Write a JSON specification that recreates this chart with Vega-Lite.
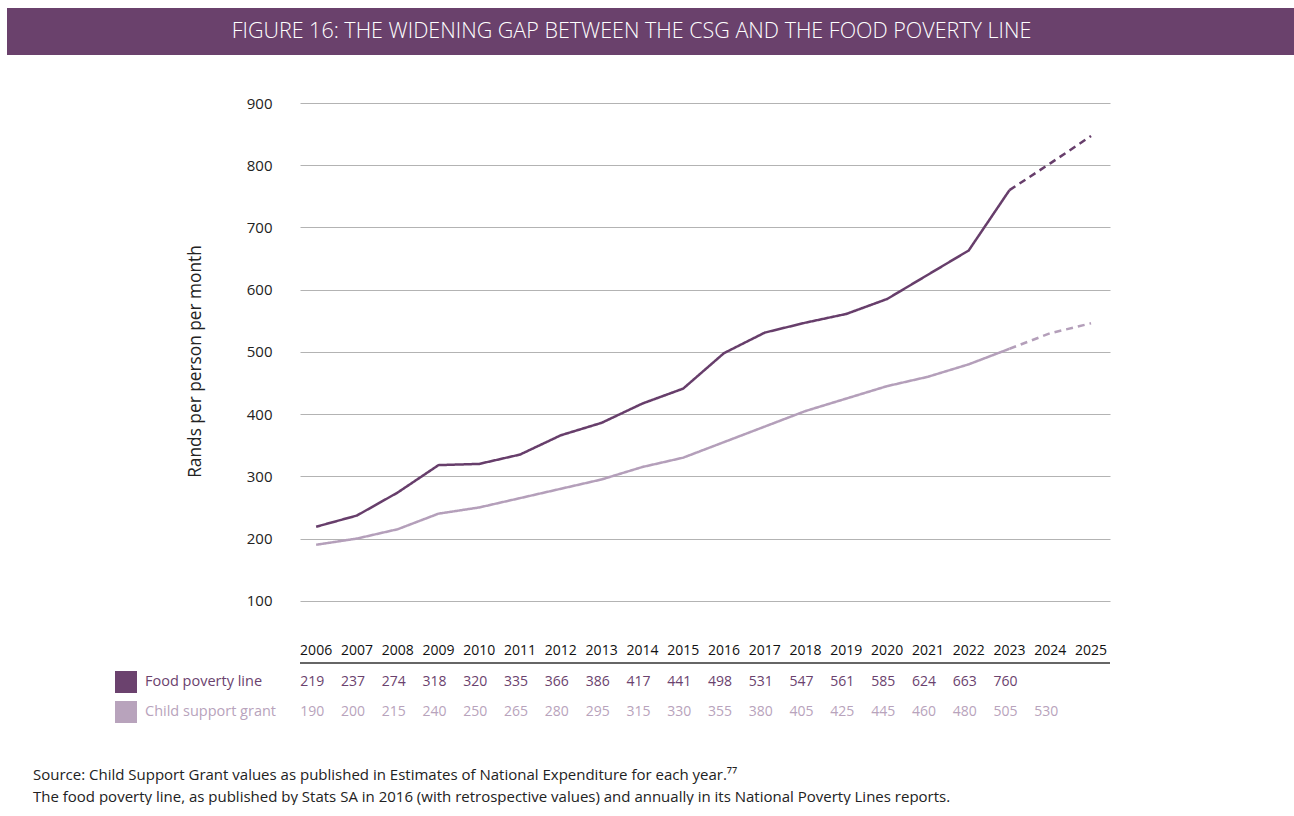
{
  "$schema": "https://vega.github.io/schema/vega-lite/v6.json",
  "padding": {"left": 7, "top": 8, "right": 0, "bottom": 0},
  "background": "white",
  "config": {"view": {"stroke": null}, "font": "Open Sans"},
  "datasets": {
    "lines": [
      {"year": "2006", "series": "Food poverty line", "seg": "actual", "value": 219},
      {"year": "2007", "series": "Food poverty line", "seg": "actual", "value": 237},
      {"year": "2008", "series": "Food poverty line", "seg": "actual", "value": 274},
      {"year": "2009", "series": "Food poverty line", "seg": "actual", "value": 318},
      {"year": "2010", "series": "Food poverty line", "seg": "actual", "value": 320},
      {"year": "2011", "series": "Food poverty line", "seg": "actual", "value": 335},
      {"year": "2012", "series": "Food poverty line", "seg": "actual", "value": 366},
      {"year": "2013", "series": "Food poverty line", "seg": "actual", "value": 386},
      {"year": "2014", "series": "Food poverty line", "seg": "actual", "value": 417},
      {"year": "2015", "series": "Food poverty line", "seg": "actual", "value": 441},
      {"year": "2016", "series": "Food poverty line", "seg": "actual", "value": 498},
      {"year": "2017", "series": "Food poverty line", "seg": "actual", "value": 531},
      {"year": "2018", "series": "Food poverty line", "seg": "actual", "value": 547},
      {"year": "2019", "series": "Food poverty line", "seg": "actual", "value": 561},
      {"year": "2020", "series": "Food poverty line", "seg": "actual", "value": 585},
      {"year": "2021", "series": "Food poverty line", "seg": "actual", "value": 624},
      {"year": "2022", "series": "Food poverty line", "seg": "actual", "value": 663},
      {"year": "2023", "series": "Food poverty line", "seg": "actual", "value": 760},
      {"year": "2023", "series": "Food poverty line", "seg": "projection", "value": 760},
      {"year": "2024", "series": "Food poverty line", "seg": "projection", "value": 803},
      {"year": "2025", "series": "Food poverty line", "seg": "projection", "value": 847},
      {"year": "2006", "series": "Child support grant", "seg": "actual", "value": 190},
      {"year": "2007", "series": "Child support grant", "seg": "actual", "value": 200},
      {"year": "2008", "series": "Child support grant", "seg": "actual", "value": 215},
      {"year": "2009", "series": "Child support grant", "seg": "actual", "value": 240},
      {"year": "2010", "series": "Child support grant", "seg": "actual", "value": 250},
      {"year": "2011", "series": "Child support grant", "seg": "actual", "value": 265},
      {"year": "2012", "series": "Child support grant", "seg": "actual", "value": 280},
      {"year": "2013", "series": "Child support grant", "seg": "actual", "value": 295},
      {"year": "2014", "series": "Child support grant", "seg": "actual", "value": 315},
      {"year": "2015", "series": "Child support grant", "seg": "actual", "value": 330},
      {"year": "2016", "series": "Child support grant", "seg": "actual", "value": 355},
      {"year": "2017", "series": "Child support grant", "seg": "actual", "value": 380},
      {"year": "2018", "series": "Child support grant", "seg": "actual", "value": 405},
      {"year": "2019", "series": "Child support grant", "seg": "actual", "value": 425},
      {"year": "2020", "series": "Child support grant", "seg": "actual", "value": 445},
      {"year": "2021", "series": "Child support grant", "seg": "actual", "value": 460},
      {"year": "2022", "series": "Child support grant", "seg": "actual", "value": 480},
      {"year": "2023", "series": "Child support grant", "seg": "actual", "value": 505},
      {"year": "2023", "series": "Child support grant", "seg": "projection", "value": 505},
      {"year": "2024", "series": "Child support grant", "seg": "projection", "value": 530},
      {"year": "2025", "series": "Child support grant", "seg": "projection", "value": 546}
    ],
    "years": [
      {"year": "2006"}, {"year": "2007"}, {"year": "2008"}, {"year": "2009"}, {"year": "2010"},
      {"year": "2011"}, {"year": "2012"}, {"year": "2013"}, {"year": "2014"}, {"year": "2015"},
      {"year": "2016"}, {"year": "2017"}, {"year": "2018"}, {"year": "2019"}, {"year": "2020"},
      {"year": "2021"}, {"year": "2022"}, {"year": "2023"}, {"year": "2024"}, {"year": "2025"}
    ],
    "table": [
      {"year": "2006", "series": "Food poverty line", "value": 219},
      {"year": "2007", "series": "Food poverty line", "value": 237},
      {"year": "2008", "series": "Food poverty line", "value": 274},
      {"year": "2009", "series": "Food poverty line", "value": 318},
      {"year": "2010", "series": "Food poverty line", "value": 320},
      {"year": "2011", "series": "Food poverty line", "value": 335},
      {"year": "2012", "series": "Food poverty line", "value": 366},
      {"year": "2013", "series": "Food poverty line", "value": 386},
      {"year": "2014", "series": "Food poverty line", "value": 417},
      {"year": "2015", "series": "Food poverty line", "value": 441},
      {"year": "2016", "series": "Food poverty line", "value": 498},
      {"year": "2017", "series": "Food poverty line", "value": 531},
      {"year": "2018", "series": "Food poverty line", "value": 547},
      {"year": "2019", "series": "Food poverty line", "value": 561},
      {"year": "2020", "series": "Food poverty line", "value": 585},
      {"year": "2021", "series": "Food poverty line", "value": 624},
      {"year": "2022", "series": "Food poverty line", "value": 663},
      {"year": "2023", "series": "Food poverty line", "value": 760},
      {"year": "2006", "series": "Child support grant", "value": 190},
      {"year": "2007", "series": "Child support grant", "value": 200},
      {"year": "2008", "series": "Child support grant", "value": 215},
      {"year": "2009", "series": "Child support grant", "value": 240},
      {"year": "2010", "series": "Child support grant", "value": 250},
      {"year": "2011", "series": "Child support grant", "value": 265},
      {"year": "2012", "series": "Child support grant", "value": 280},
      {"year": "2013", "series": "Child support grant", "value": 295},
      {"year": "2014", "series": "Child support grant", "value": 315},
      {"year": "2015", "series": "Child support grant", "value": 330},
      {"year": "2016", "series": "Child support grant", "value": 355},
      {"year": "2017", "series": "Child support grant", "value": 380},
      {"year": "2018", "series": "Child support grant", "value": 405},
      {"year": "2019", "series": "Child support grant", "value": 425},
      {"year": "2020", "series": "Child support grant", "value": 445},
      {"year": "2021", "series": "Child support grant", "value": 460},
      {"year": "2022", "series": "Child support grant", "value": 480},
      {"year": "2023", "series": "Child support grant", "value": 505},
      {"year": "2024", "series": "Child support grant", "value": 530}
    ]
  },
  "title": {
    "text": [
      "Source: Child Support Grant values as published in Estimates of National Expenditure for each year.⁷⁷",
      "The food poverty line, as published by Stats SA in 2016 (with retrospective values) and annually in its National Poverty Lines reports."
    ],
    "orient": "bottom",
    "anchor": "start",
    "frame": "bounds",
    "dx": 26,
    "offset": 41,
    "fontSize": 15,
    "fontWeight": "normal",
    "color": "#222222",
    "lineHeight": 22,
    "font": "Open Sans"
  },
  "spacing": 41,
  "vconcat": [
    {
      "width": 1287,
      "height": 47,
      "view": {"fill": "#6a416c", "stroke": null},
      "data": {"values": [{"t": "FIGURE 16: THE WIDENING GAP BETWEEN THE CSG AND THE FOOD POVERTY LINE"}]},
      "mark": {"type": "text", "color": "white", "fontSize": 21.5, "fontWeight": 300, "dx": -19, "align": "center", "baseline": "middle"},
      "encoding": {"text": {"field": "t", "type": "nominal"}}
    },
    {
      "spacing": 0,
      "hconcat": [
        {
          "width": 108,
          "height": 1,
          "data": {"values": [{"a": 1}]},
          "mark": {"type": "point", "opacity": 0},
          "encoding": {}
        },
        {
          "spacing": 3,
          "resolve": {"scale": {"color": "independent", "strokeDash": "independent"}, "legend": {"color": "independent"}},
          "vconcat": [
            {
              "width": 810,
              "height": 560,
              "layer": [
                {
                  "data": {"name": "lines"},
                  "mark": {"type": "line", "strokeWidth": 2.5},
                  "encoding": {
                    "x": {"field": "year", "type": "ordinal", "scale": {"domain": ["2006","2007","2008","2009","2010","2011","2012","2013","2014","2015","2016","2017","2018","2019","2020","2021","2022","2023","2024","2025"], "padding": 0.43, "align": 0.46}, "axis": null},
                    "y": {"field": "value", "type": "quantitative", "scale": {"domain": [0, 900], "nice": false},
                      "axis": {"values": [100,200,300,400,500,600,700,800,900], "grid": true, "gridColor": "#b3b3b3", "gridWidth": 1, "domain": false, "ticks": false, "labelPadding": 28, "labelFontSize": 15, "labelColor": "#222222", "labelFont": "Open Sans", "title": "Rands per person per month", "titleFontSize": 17.3, "titleFontWeight": "normal", "titleColor": "#222222", "titleFont": "Open Sans", "titlePadding": 42, "titleY": 258}},
                    "color": {"field": "series", "type": "nominal", "scale": {"domain": ["Food poverty line", "Child support grant"], "range": ["#673e6b", "#b49fba"]}, "legend": null},
                    "strokeDash": {"field": "seg", "type": "nominal", "scale": {"domain": ["actual", "projection"], "range": [[1, 0], [7, 5]]}, "legend": null}
                  }
                },
                {
                  "data": {"values": [{"v": 0}]},
                  "mark": {"type": "rule", "color": "#333333", "strokeWidth": 1.5},
                  "encoding": {"y": {"field": "v", "type": "quantitative"}}
                },
                {
                  "data": {"name": "years"},
                  "mark": {"type": "text", "fontSize": 14, "fontWeight": 500, "color": "#111111", "dy": -12, "baseline": "middle", "align": "center"},
                  "encoding": {
                    "x": {"field": "year", "type": "ordinal"},
                    "y": {"datum": 0},
                    "text": {"field": "year", "type": "nominal"}
                  }
                }
              ]
            },
            {
              "width": 810,
              "height": 60,
              "data": {"name": "table"},
              "mark": {"type": "text", "align": "left", "dx": -16, "fontSize": 14, "baseline": "middle"},
              "encoding": {
                "x": {"field": "year", "type": "ordinal", "scale": {"domain": ["2006","2007","2008","2009","2010","2011","2012","2013","2014","2015","2016","2017","2018","2019","2020","2021","2022","2023","2024","2025"], "padding": 0.43, "align": 0.46}, "axis": null},
                "y": {"field": "series", "type": "nominal", "scale": {"domain": ["Food poverty line", "Child support grant"]}, "axis": null},
                "text": {"field": "value", "type": "quantitative"},
                "color": {"field": "series", "type": "nominal", "scale": {"domain": ["Food poverty line", "Child support grant"], "range": ["#6b426e", "#b8a3bc"]},
                  "legend": {"orient": "none", "legendX": -185, "legendY": 4, "title": null, "symbolType": "square", "symbolSize": 484, "symbolStrokeWidth": 0, "symbolOpacity": 1, "labelFontSize": 14.5, "labelFont": "Open Sans", "labelOffset": 8, "rowPadding": 8, "padding": 0, "labelLimit": 300,
                    "labelColor": {"expr": "datum.label === 'Food poverty line' ? '#6b426e' : '#b8a3bc'"}}}
              }
            }
          ]
        }
      ]
    }
  ]
}
